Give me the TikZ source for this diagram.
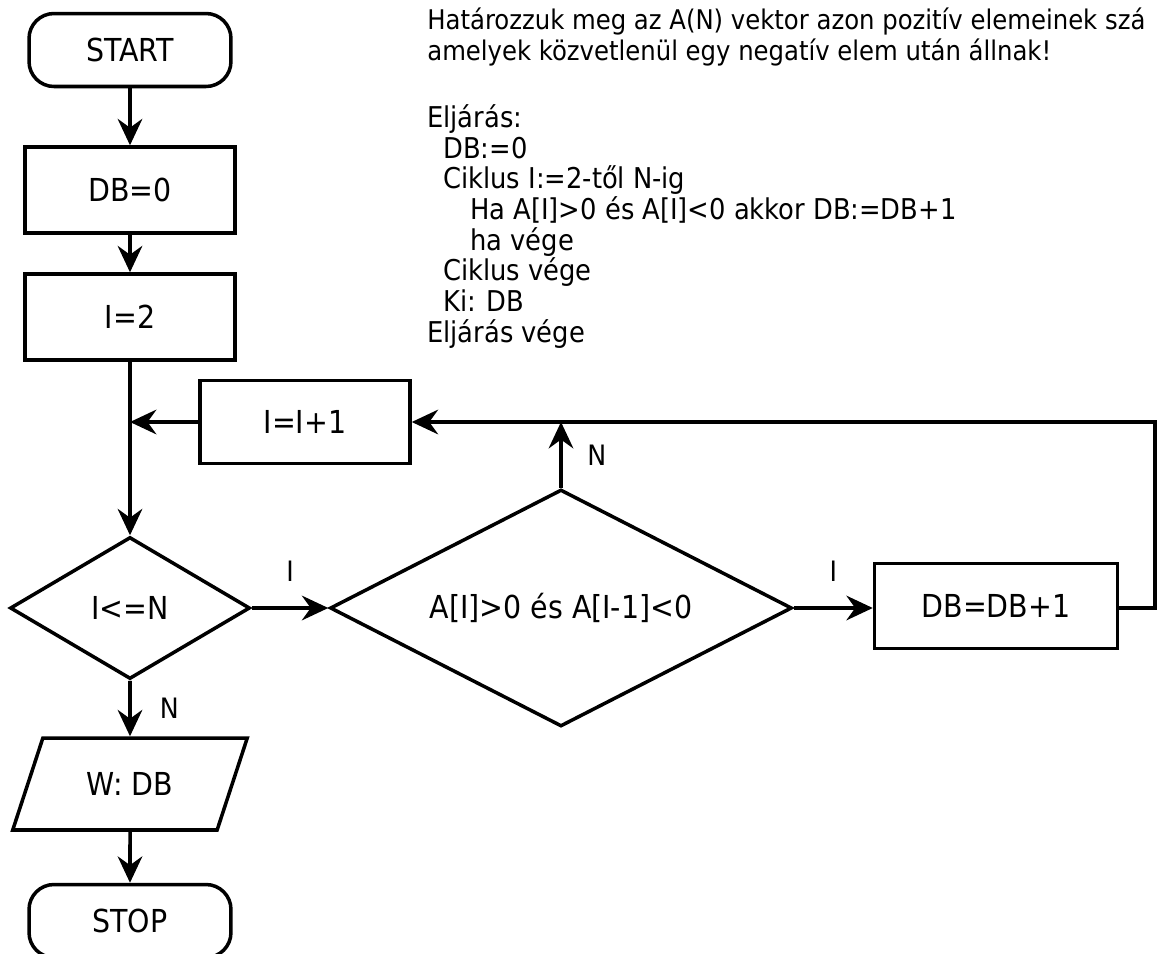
\documentclass[tikz,border=0pt]{standalone}
\usepackage{fontspec}
\setmainfont{DejaVu Sans Condensed}
\usepackage{tikz}
\usetikzlibrary{arrows.meta,positioning,shapes}

\begin{document}
\begin{tikzpicture}[
  x=0.02cm, y=-0.02cm,
  box/.style={draw, line width=2pt, align=center, fill=white, minimum width=4.2cm, minimum height=1.72cm, font=\fontsize{18}{22}\selectfont},
  term/.style={box, rounded corners=0.5cm, minimum width=4.04cm, minimum height=1.46cm},
  decision/.style={draw, diamond, line width=2pt, inner sep=0pt, fill=white, font=\fontsize{18}{22}\selectfont},
  io/.style={draw, trapezium, trapezium left angle=64, trapezium right angle=116, trapezium stretches=true, line width=2pt, fill=white, minimum width=4.7cm, minimum height=1.84cm, font=\fontsize{18}{22}\selectfont},
  arrow/.style={-{Stealth[length=15pt, width=14pt, inset=5pt]}, line width=2pt},
  lbl/.style={font=\fontsize{16}{18}\selectfont, inner sep=0pt},
  txt/.style={align=left, inner sep=0pt, font=\fontsize{16.3}{17.5}\selectfont}
]
\useasboundingbox (0,0) rectangle (1157,954);

% Main column
\node[term] (start) at (130, 50) {START};
\node[box] (dbzero) at (130, 190) {DB=0};
\node[box] (itwo) at (130, 317) {I=2};
\node[decision, aspect=1.69, minimum width=4.8cm, minimum height=2.84cm] (test) at (130, 608) {I<=N};
\node[io] (out) at (130, 784) {W: DB};
\node[term] (stop) at (130, 921) {STOP};

% Loop body
\node[box, minimum height=1.66cm] (inc) at (305, 422) {I=I+1};
\node[decision, aspect=1.95, minimum width=9.24cm, minimum height=4.74cm] (cond) at (561, 608) {A[I]>0 és A[I-1]<0};
\node[box, minimum width=4.86cm, minimum height=1.7cm] (dbinc) at (996, 606) {DB=DB+1};

% Task text
\node[txt, anchor=north west, font=\fontsize{15.4}{17.5}\selectfont] (task) at (427, 8) {Határozzuk meg az A(N) vektor azon pozitív elemeinek szá\\amelyek közvetlenül egy negatív elem után állnak!};
\node[txt, anchor=north west] (proc) at (427, 104) {Eljárás:\\
  \hspace*{0.32cm}DB:=0\\
  \hspace*{0.32cm}Ciklus I:=2-től N-ig\\
  \hspace*{0.86cm}Ha A[I]>0 és A[I]<0 akkor DB:=DB+1\\
  \hspace*{0.86cm}ha vége\\
  \hspace*{0.32cm}Ciklus vége\\
  \hspace*{0.32cm}Ki: DB\\
  Eljárás vége};

% Connections
\draw[arrow] (start) -- (dbzero);
\draw[arrow] (dbzero) -- (itwo);
\draw[arrow] (itwo) -- (test);
\draw[arrow] (test) -- node[lbl, right=16pt] {N} (out);
\draw[arrow] (out) -- (stop);
\draw[arrow] (test) -- node[lbl, above=14pt] {I} (cond);
\draw[arrow] (cond) -- node[lbl, above=14pt] {I} (dbinc.west |- cond);
\draw[arrow] (dbinc.east |- cond) -- ++(36,0) |- (inc.east);
\draw[arrow] (cond.north) -- node[lbl, right=14pt] {N} (cond.north |- inc.east);
\draw[arrow] (inc.west) -- (inc.west -| itwo.south);

\end{tikzpicture}
\end{document}
